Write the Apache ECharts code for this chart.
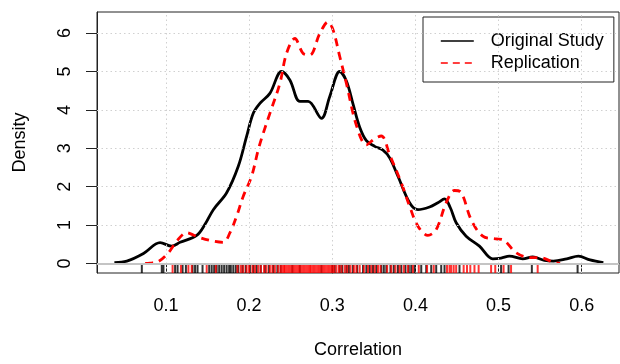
<!DOCTYPE html>
<html>
<head>
<meta charset="utf-8">
<script src="https://cdn.jsdelivr.net/npm/echarts@6/dist/echarts.min.js"></script>
<style>html,body{margin:0;padding:0;background:#fff}#c{width:620px;height:364px}</style>
</head>
<body>
<div id="c"></div>
<script>
// ---- data ----
const xTicks = [0.1, 0.2, 0.3, 0.4, 0.5, 0.6];
const yTicks = [0, 1, 2, 3, 4, 5, 6];

const origX = [0.038,0.053,0.073,0.093,0.107,0.117,0.137,0.147,0.157,0.173,0.187,0.197,0.205,0.213,0.225,0.239,0.249,0.261,0.271,0.287,0.297,0.309,0.317,0.325,0.333,0.341,0.351,0.361,0.369,0.379,0.393,0.403,0.417,0.427,0.435,0.442,0.449,0.461,0.477,0.493,0.503,0.513,0.529,0.541,0.555,0.566,0.582,0.596,0.610,0.626];
const origY = [0.02,0.06,0.26,0.54,0.45,0.55,0.73,1.02,1.40,1.84,2.53,3.31,3.91,4.17,4.43,5.00,4.78,4.22,4.22,3.78,4.35,5.00,4.75,4.15,3.55,3.20,3.05,2.95,2.75,2.27,1.58,1.40,1.47,1.58,1.68,1.45,1.06,0.71,0.45,0.12,0.14,0.19,0.12,0.17,0.08,0.06,0.12,0.19,0.09,0.02];

const repX = [0.075,0.081,0.091,0.103,0.113,0.125,0.133,0.141,0.157,0.169,0.177,0.185,0.193,0.203,0.211,0.217,0.225,0.237,0.245,0.255,0.265,0.273,0.285,0.295,0.301,0.309,0.317,0.329,0.341,0.351,0.359,0.369,0.383,0.393,0.403,0.415,0.425,0.437,0.447,0.455,0.467,0.481,0.497,0.505,0.521,0.538,0.550,0.566,0.574];
const repY = [0.0,0.01,0.05,0.28,0.58,0.80,0.74,0.67,0.58,0.55,0.80,1.23,1.75,2.27,2.96,3.39,3.91,4.69,5.47,5.86,5.47,5.43,5.99,6.29,6.08,5.39,4.69,3.60,3.09,3.25,3.32,2.83,2.10,1.49,0.97,0.73,0.88,1.58,1.90,1.85,1.14,0.71,0.64,0.62,0.28,0.15,0.15,0.03,0.0];

const origRug = [0.071,0.095,0.097,0.111,0.114,0.120,0.124,0.132,0.135,0.138,0.144,0.152,0.155,0.158,0.161,0.164,0.167,0.170,0.173,0.176,0.178,0.181,0.184,0.187,0.192,0.196,0.201,0.205,0.209,0.214,0.219,0.224,0.229,0.234,0.238,0.252,0.261,0.287,0.300,0.303,0.309,0.312,0.317,0.320,0.325,0.330,0.337,0.341,0.345,0.349,0.353,0.359,0.362,0.365,0.370,0.374,0.379,0.383,0.388,0.392,0.395,0.399,0.407,0.413,0.419,0.425,0.431,0.435,0.453,0.503,0.512,0.540,0.595];
const repRug = [0.108,0.118,0.127,0.131,0.149,0.160,0.186,0.190,0.193,0.197,0.200,0.204,0.207,0.211,0.214,0.218,0.221,0.225,0.228,0.231,0.235,0.238,0.240,0.242,0.243,0.245,0.247,0.249,0.251,0.253,0.255,0.257,0.259,0.261,0.263,0.265,0.267,0.269,0.271,0.273,0.274,0.276,0.278,0.280,0.282,0.284,0.286,0.288,0.290,0.292,0.294,0.296,0.298,0.300,0.302,0.305,0.308,0.311,0.315,0.318,0.322,0.326,0.329,0.333,0.338,0.343,0.347,0.351,0.355,0.358,0.366,0.371,0.376,0.381,0.386,0.391,0.397,0.404,0.414,0.422,0.438,0.441,0.443,0.446,0.449,0.458,0.462,0.466,0.471,0.476,0.491,0.496,0.506,0.515,0.547];

const seriesNames = ['Original Study', 'Replication'];
const xLabel = 'Correlation';
const yLabel = 'Density';

// ---- chart ----
const X_MIN = 0.0171, X_MAX = 0.6448, Y_MIN = -0.25, Y_MAX = 6.55;
const FONT = 'Liberation Sans, Arial, Helvetica, sans-serif';
const zip = (a, b) => a.map((v, i) => [v, b[i]]);
const rug = a => a.map(v => [v, Y_MIN]);

const chart = echarts.init(document.getElementById('c'), null, {renderer: 'canvas'});
chart.setOption({
  animation: false,
  backgroundColor: '#fff',
  textStyle: {fontFamily: FONT},
  grid: {left: 97, right: 1, top: 12, bottom: 90, show: true, borderColor: '#222', borderWidth: 1, backgroundColor: 'transparent'},
  xAxis: {
    type: 'value', min: X_MIN, max: X_MAX,
    name: xLabel, nameLocation: 'middle', nameGap: 68,
    nameTextStyle: {fontSize: 18, color: '#000', fontFamily: FONT},
    axisLine: {show: true, lineStyle: {color: '#222', width: 1}},
    axisTick: {show: true, customValues: xTicks, length: 10, lineStyle: {color: '#222'}},
    axisLabel: {customValues: xTicks, fontSize: 18, color: '#000', margin: 24, fontFamily: FONT, formatter: v => v.toFixed(1)},
    splitLine: {show: false}
  },
  yAxis: {
    type: 'value', min: Y_MIN, max: Y_MAX,
    name: yLabel, nameLocation: 'middle', nameGap: 68,
    nameTextStyle: {fontSize: 18, color: '#000', fontFamily: FONT},
    axisLine: {show: true, lineStyle: {color: '#222', width: 1}},
    axisTick: {show: true, customValues: yTicks, length: 11, lineStyle: {color: '#222'}},
    axisLabel: {customValues: yTicks, fontSize: 18, color: '#000', margin: 23, rotate: 90, fontFamily: FONT, formatter: v => String(Math.round(v))},
    splitLine: {show: false}
  },
  legend: {
    show: true,
    orient: 'vertical', left: 423, top: 17,
    borderColor: '#222', borderWidth: 1, backgroundColor: '#fff',
    padding: [15, 10, 10, 17],
    itemWidth: 33, itemHeight: 14, itemGap: 4,
    itemStyle: {opacity: 0},
    textStyle: {fontSize: 18, color: '#000', fontFamily: FONT, padding: [0, 0, 0, 12]},
    data: [
      {name: seriesNames[0], lineStyle: {width: 1.6}},
      {name: seriesNames[1], lineStyle: {width: 1.6, type: [7, 5]}}
    ]
  },
  series: [
    {
      name: 'grid', type: 'scatter', data: [], z: 1, silent: true,
      markLine: {
        silent: true, symbol: 'none', label: {show: false}, animation: false,
        data: [
          ...xTicks.map(v => ({xAxis: v, lineStyle: {color: '#d0d0d0', width: 1, type: [1.5, 3]}})),
          ...yTicks.map(v => ({yAxis: v, lineStyle: {color: '#d0d0d0', width: 1, type: [1.5, 3]}})),
          {yAxis: 0, lineStyle: {color: '#c4c4c4', width: 2, type: 'solid'}}
        ]
      }
    },
    {
      name: seriesNames[0], type: 'line', data: zip(origX, origY), z: 3,
      symbol: 'none', smooth: 0.35, clip: true,
      lineStyle: {color: '#000', width: 2.8}, itemStyle: {color: '#000'}
    },
    {
      name: seriesNames[1], type: 'line', data: zip(repX, repY), z: 4,
      symbol: 'none', smooth: 0.35, clip: true,
      lineStyle: {color: '#ff0000', width: 2.8, type: [8, 6]}, itemStyle: {color: '#ff0000'}
    },
    {
      name: 'origRug', type: 'scatter', data: rug(origRug), z: 5, silent: true, clip: false,
      symbol: 'rect', symbolSize: [2, 8], symbolOffset: [0, -4],
      itemStyle: {color: '#000'}
    },
    {
      name: 'repRug', type: 'scatter', data: rug(repRug), z: 6, silent: true, clip: false,
      symbol: 'rect', symbolSize: [2, 8], symbolOffset: [0, -4],
      itemStyle: {color: '#ff0000'}
    }
  ]
});
</script>
</body>
</html>
